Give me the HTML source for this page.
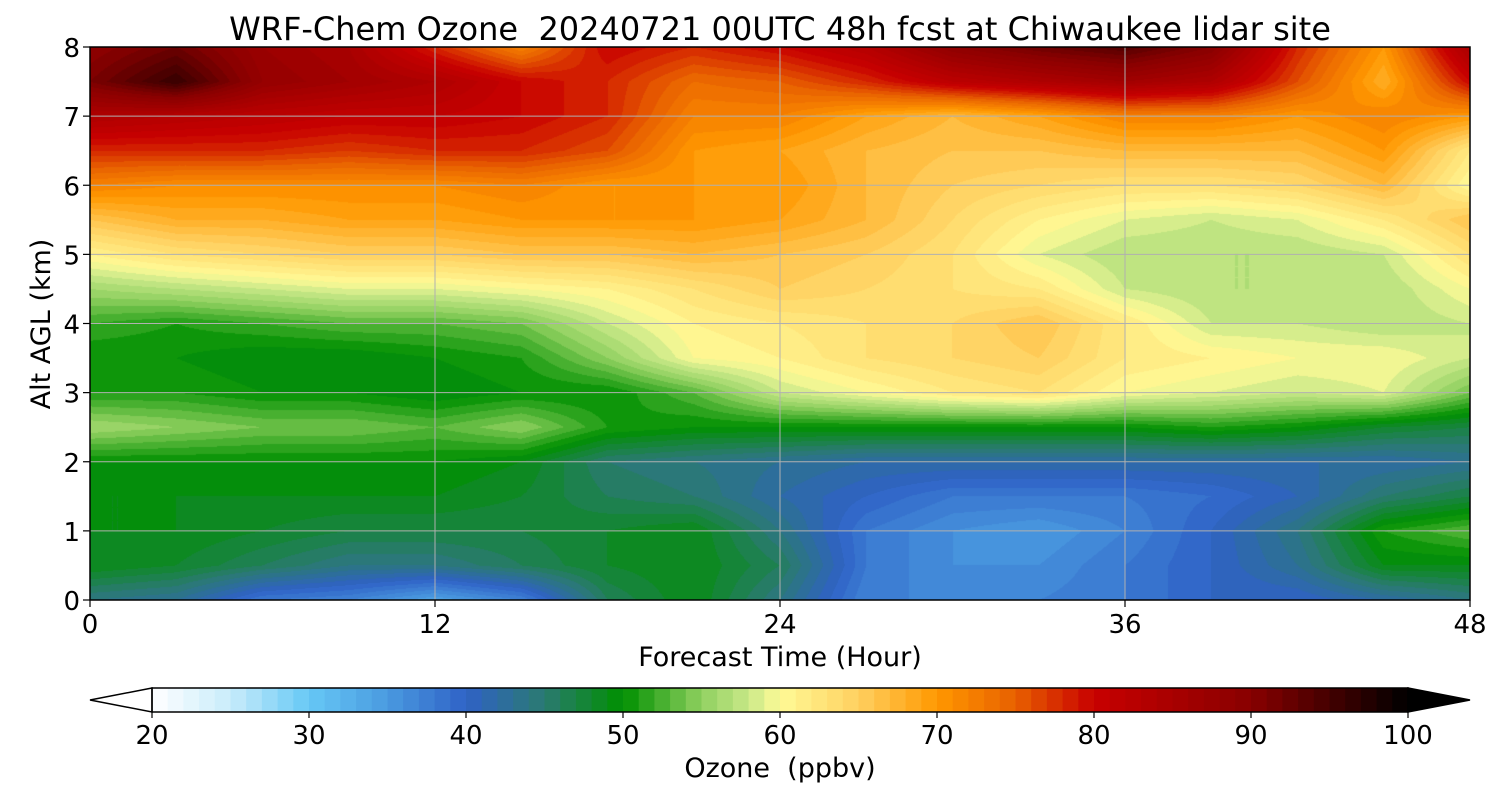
<!DOCTYPE html>
<html><head><meta charset="utf-8">
<style>
html,body{margin:0;padding:0;background:#fff;}
#wrap{position:relative;width:1500px;height:800px;font-family:"Liberation Sans","DejaVu Sans",sans-serif;}
svg text{font-family:"DejaVu Sans","Liberation Sans",sans-serif;fill:#000;white-space:pre;}
</style></head>
<body>
<div id="wrap">
<canvas id="cv" width="1380" height="553" style="position:absolute;left:90px;top:47px;"></canvas>
<svg id="sv" width="1500" height="800" style="position:absolute;left:0;top:0;"></svg>
</div>
<script>
// ---- data ----
const times = [0,3,6,9,12,15,18,21,24,27,30,33,36,39,42,45,48];
const alts = [0,0.5,1,1.5,2,2.5,3,3.5,4,4.5,5,5.5,6,6.5,7,7.5,8];
const ozone = [
[44,43,38,37,34,37,46,49,44,37,37,37,38,40,40,42,44],
[49,48,46,44,44,46,48,49,46,38,36,36,38,40,43,49,49],
[49,49,48,47,47,47,48,49,44,38,36,35,37,40,44,51,53],
[49,49,49,49,49,48,46,45,42,40,38,38,38,39,41,45,47],
[50,50,50,50,50,49,45,44,43,42,42,42,42,42,42,42,43],
[56,55,54,54,53,55,51,50,50,50,50,50,50,51,50,48,47],
[51,51,50,50,49,50,50,53,58,60,62,63,60,59,58,59,54],
[50,50,49,49,50,51,55,60,61,63,64,65,62,61,60,60,58],
[52,51,52,53,53,54,58,61,62,63,64,66,62,58,58,57,58],
[56,57,58,59,59,60,61,63,65,64,63,62,58,57,57,57,60],
[61,63,64,65,65,66,66,67,66,65,63,59,57,57,57,58,63],
[66,68,68,69,69,70,70,70,69,67,64,61,59,58,59,62,66],
[72,71,71,71,71,72,70,70,70,67,65,64,63,63,64,67,60],
[78,78,78,77,78,78,76,70,69,67,66,66,67,67,67,70,62],
[84,83,82,81,81,80,78,72,72,69,67,69,72,72,70,72,70],
[91,96,88,86,84,80,78,74,75,78,82,84,86,84,76,68,80],
[89,92,87,85,78,72,80,78,80,83,89,92,94,90,78,70,85]
];
const xTicks = [0,12,24,36,48];
const yTicks = [0,1,2,3,4,5,6,7,8];
const cbTicks = [20,30,40,50,60,70,80,90,100];
const stops = [[20,'#ffffff'],[25,'#c8ecfb'],[30,'#66c8f5'],[35,'#4a9ae0'],[40,'#2f62c6'],[45,'#2a7a70'],[50,'#009000'],[55,'#90d060'],[58,'#c8e888'],[60,'#fffa96'],[65,'#ffd060'],[70,'#ff9800'],[75,'#e86000'],[80,'#c80000'],[90,'#880000'],[100,'#000000']];

// ---- scales ----
const X0=90,X1=1470,Y0=600,Y1=47;
const xs=t=>X0+(t-0)/48*(X1-X0);
const ys=a=>Y0-(a/8)*(Y0-Y1);
const CB0=152,CB1=1408;
const cs=v=>CB0+(v-20)/80*(CB1-CB0);
function hex(h){return [parseInt(h.substr(1,2),16),parseInt(h.substr(3,2),16),parseInt(h.substr(5,2),16)];}
function cmap(v){
  v=Math.max(20,Math.min(100,v));
  for(let i=0;i<stops.length-1;i++){
    if(v<=stops[i+1][0]){const a=hex(stops[i][1]),b=hex(stops[i+1][1]);const f=(v-stops[i][0])/(stops[i+1][0]-stops[i][0]);
      return [0,1,2].map(k=>Math.round(a[k]+(b[k]-a[k])*f));}
  }
  return [0,0,0];
}
function val(t,a){
  let i=0;while(i<times.length-2&&t>times[i+1])i++;
  let j=0;while(j<alts.length-2&&a>alts[j+1])j++;
  const ft=(t-times[i])/(times[i+1]-times[i]),fa=(a-alts[j])/(alts[j+1]-alts[j]);
  const v00=ozone[j][i],v01=ozone[j][i+1],v10=ozone[j+1][i],v11=ozone[j+1][i+1];
  return (v00*(1-ft)+v01*ft)*(1-fa)+(v10*(1-ft)+v11*ft)*fa;
}
// ---- heatmap ----
const cv=document.getElementById('cv'),ctx=cv.getContext('2d');
const W=cv.width,H=cv.height,img=ctx.createImageData(W,H);
for(let py=0;py<H;py++){const a=8*(1-(py+0.5)/H);
  for(let px=0;px<W;px++){const t=48*(px+0.5)/W;
    let v=Math.floor(val(t,a))+0.5;const c=cmap(v);const o=(py*W+px)*4;
    img.data[o]=c[0];img.data[o+1]=c[1];img.data[o+2]=c[2];img.data[o+3]=255;}}
ctx.putImageData(img,0,0);
// ---- svg ----
const NS='http://www.w3.org/2000/svg',sv=document.getElementById('sv');
function mk(tag,attrs,txt){const e=document.createElementNS(NS,tag);for(const k in attrs)e.setAttribute(k,attrs[k]);if(txt!==undefined)e.textContent=txt;sv.appendChild(e);return e;}
xTicks.forEach(t=>{
  const l=mk('line',{x1:xs(t),x2:xs(t),y1:Y1,y2:Y0,stroke:'#b0b0b0','stroke-width':1});
  
  
  const tk=mk('line',{x1:xs(t),x2:xs(t),y1:Y0,y2:Y0+7,stroke:'#000','stroke-width':1.2});
  
  
  const tx=mk('text',{x:xs(t),y:633,'font-size':26,'text-anchor':'middle'},String(t));
  
  
});
yTicks.forEach(a=>{
  const l=mk('line',{x1:X0,x2:X1,y1:ys(a),y2:ys(a),stroke:'#b0b0b0','stroke-width':1});
  
  
  const tk=mk('line',{x1:X0-7,x2:X0,y1:ys(a),y2:ys(a),stroke:'#000','stroke-width':1.2});
  
  
  const tx=mk('text',{x:80,y:ys(a)+10,'font-size':26,'text-anchor':'end'},String(a));
  
  
});
const fr=mk('rect',{x:X0,y:Y1,width:X1-X0,height:Y0-Y1,fill:'none',stroke:'#000','stroke-width':1.5});


const ti=mk('text',{x:780,y:40,'font-size':32,'text-anchor':'middle'},'WRF-Chem Ozone  20240721 00UTC 48h fcst at Chiwaukee lidar site');


const xt=mk('text',{x:780,y:666,'font-size':27,'text-anchor':'middle'},'Forecast Time (Hour)');


const yt=mk('text',{x:50,y:324,'font-size':27,'text-anchor':'middle',transform:'rotate(-90 50 324)'},'Alt AGL (km)');


// colorbar
const CBY=688,CBH=24;
for(let v=20;v<100;v++){
  const c=cmap(v+0.5);
  const r=mk('rect',{x:cs(v),y:CBY,width:cs(v+1)-cs(v)+0.6,height:CBH,fill:`rgb(${c[0]},${c[1]},${c[2]})`});
  
  
}
const lt=mk('polygon',{points:`${CB0},${CBY} 90,${CBY+CBH/2} ${CB0},${CBY+CBH}`,fill:'#fff',stroke:'#000','stroke-width':1.5});


const rt=mk('polygon',{points:`${CB1},${CBY} 1470,${CBY+CBH/2} ${CB1},${CBY+CBH}`,fill:'#000',stroke:'#000','stroke-width':1.5});


const cbf=mk('rect',{x:CB0,y:CBY,width:CB1-CB0,height:CBH,fill:'none',stroke:'#000','stroke-width':1.5});


cbTicks.forEach(v=>{
  const tk=mk('line',{x1:cs(v),x2:cs(v),y1:CBY+CBH,y2:CBY+CBH+6,stroke:'#000','stroke-width':1.2});
  
  
  const tx=mk('text',{x:cs(v),y:744,'font-size':26,'text-anchor':'middle'},String(v));
  
  
});
const ct=mk('text',{x:780,y:777,'font-size':27,'text-anchor':'middle'},'Ozone  (ppbv)');


</script>
</body></html>
